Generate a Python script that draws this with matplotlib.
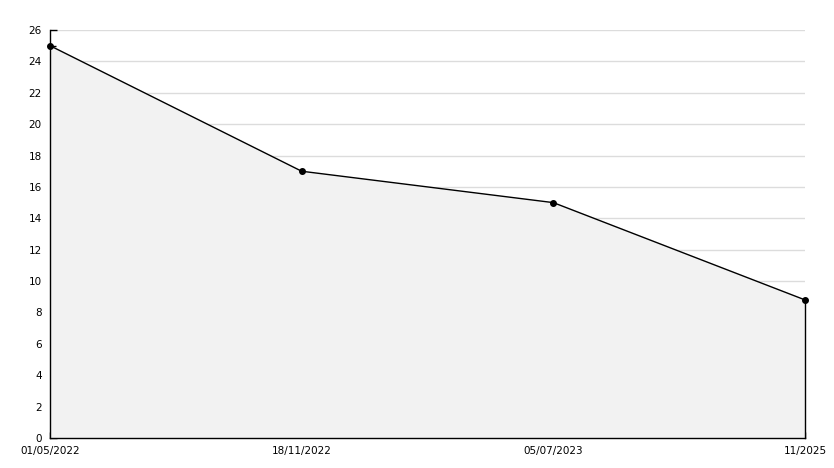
import numpy as np
import matplotlib.pyplot as plt
from matplotlib.ticker import MultipleLocator

# Valores
datas = ["01/05/2022", "18/11/2022", "05/07/2023", "11/2025"]
valores = [25, 17, 15, 8.8]

x = np.arange(len(datas))

fig = plt.figure(figsize=(8.34, 4.68), dpi=100)
ax = fig.add_axes([50 / 834, 30 / 468, 755 / 834, 408 / 468])

ax.fill_between(x, valores, 0, color="#f2f2f2", zorder=1)
ax.plot([x[-1], x[-1]], [0, valores[-1]], color="black", lw=1, zorder=3,
        clip_on=False)
ax.plot(x, valores, color="black", lw=1, marker="o", ms=4, zorder=4,
        clip_on=False)

ax.set_xlim(x[0], x[-1])
ax.set_ylim(0, 26)
ax.set_xticks(x)
ax.set_xticklabels(datas)
ax.yaxis.set_major_locator(MultipleLocator(2))
ax.yaxis.set_minor_locator(MultipleLocator(1))

ax.grid(axis="y", color="#dcdcdc", lw=1, zorder=0)
ax.set_axisbelow(True)

for s in ["top", "right"]:
    ax.spines[s].set_visible(False)
for s in ["left", "bottom"]:
    ax.spines[s].set_linewidth(1)
    ax.spines[s].set_zorder(5)

ax.tick_params(axis="y", which="major", direction="in", length=5, width=1,
               labelsize=7.5, pad=6)
ax.tick_params(axis="y", which="minor", direction="in", length=4, width=1)
ax.tick_params(axis="x", direction="in", length=4, width=1, labelsize=7.5, pad=6)

plt.savefig("out.png", dpi=100)
